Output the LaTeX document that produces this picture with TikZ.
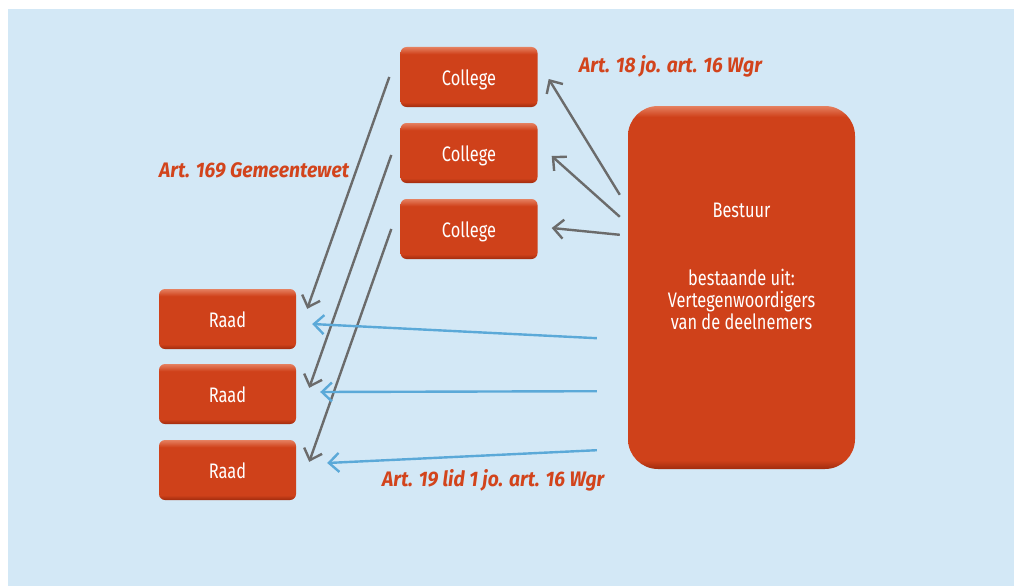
\documentclass[tikz,border=0pt]{standalone}
\usepackage{fontspec}
\setmainfont{Fira Sans}
\newfontfamily\boxfont{Fira Sans}[FakeStretch=0.78]
\newfontfamily\artfont{Fira Sans}[FakeStretch=0.92]
\usetikzlibrary{arrows.meta,calc}
\definecolor{bg}{HTML}{D3E8F6}
\definecolor{boxmain}{HTML}{CF411A}
\definecolor{boxlight}{HTML}{E58060}
\definecolor{boxdark}{HTML}{A02C0E}
\definecolor{artred}{HTML}{D2441C}
\definecolor{arrgray}{HTML}{6B6B6B}
\definecolor{arrblue}{HTML}{5BA9D8}
\pgfdeclareverticalshading{boxshade}{100bp}{color(0bp)=(boxdark); color(25bp)=(boxdark); color(29bp)=(boxmain); color(69bp)=(boxmain); color(75bp)=(boxlight); color(100bp)=(boxlight)}
\pgfdeclareverticalshading{bigshade}{100bp}{color(0bp)=(boxdark); color(25bp)=(boxdark); color(26.2bp)=(boxmain); color(73.5bp)=(boxmain); color(75bp)=(boxlight); color(100bp)=(boxlight)}
\begin{document}
\begin{tikzpicture}[x=1pt,y=-1pt,
  box/.style={rectangle,rounded corners=6pt,shading=boxshade,minimum width=137pt,minimum height=60pt,text height=17pt,text depth=0pt,text=white,font=\boxfont\fontsize{21}{24}\selectfont},
  art/.style={inner sep=0pt,text=artred,font=\artfont\bfseries\itshape\fontsize{21}{24}\selectfont},
  grayarr/.style={draw=arrgray,line width=2.4pt,-{Straight Barb[length=10pt,width=19pt,line width=2.4pt]}},
  bluearr/.style={draw=arrblue,line width=2.4pt,-{Straight Barb[length=10pt,width=19pt,line width=2.4pt]}}]
\useasboundingbox (0,0) rectangle (1014,586);
\fill[bg] (8,9) rectangle (1014,586);
\node[box] (c1) at (469,77) {College};
\node[box] (c2) at (469,153) {College};
\node[box] (c3) at (469,229) {College};
\node[box] (r1) at (227.5,319) {Raad};
\node[box] (r2) at (227.5,394) {Raad};
\node[box] (r3) at (227.5,470) {Raad};
\node[rectangle,rounded corners=30pt,shading=bigshade,minimum width=227pt,minimum height=363pt] (b) at (741.5,287.5) {};
\node[text=white,align=center,font=\boxfont\fontsize{21}{22}\selectfont] (bt) at (741.5,266) {Bestuur\\[46pt]bestaande uit:\\Vertegenwoordigers\\van de deelnemers};
\node[art,anchor=base west] (a1) at (579,72) {Art. 18 jo. art. 16 Wgr};
\node[art,anchor=base west] (a2) at (159,177) {Art. 169 Gemeentewet};
\node[art,anchor=base west] (a3) at (382,486) {Art. 19 lid 1 jo. art. 16 Wgr};
\draw[grayarr] ($(c1.west)+(-11,0)$) -- ($(r1.north east)+(11,20)$);
\draw[grayarr] ($(c2.west)+(-9,2)$) -- ($(r2.north east)+(13,24)$);
\draw[grayarr] ($(c3.west)+(-9,0)$) -- ($(r3.north east)+(13,22)$);
\draw[grayarr] ($(b.north west)+(-8,89)$) -- ($(c1.east)+(11,2)$);
\draw[grayarr] ($(b.north west)+(-8,111)$) -- ($(c2.east)+(14,3)$);
\draw[grayarr] ($(b.north west)+(-8,129)$) -- ($(c3.east)+(14,-1)$);
\draw[bluearr] ($(b.south west)+(-31,-131)$) -- ($(r1.east)+(16,5)$);
\draw[bluearr] ($(b.south west)+(-31,-78)$) -- ($(r2.east)+(24,-2)$);
\draw[bluearr] ($(b.south west)+(-31,-19)$) -- ($(r3.east)+(31,-7)$);
\end{tikzpicture}
\end{document}
